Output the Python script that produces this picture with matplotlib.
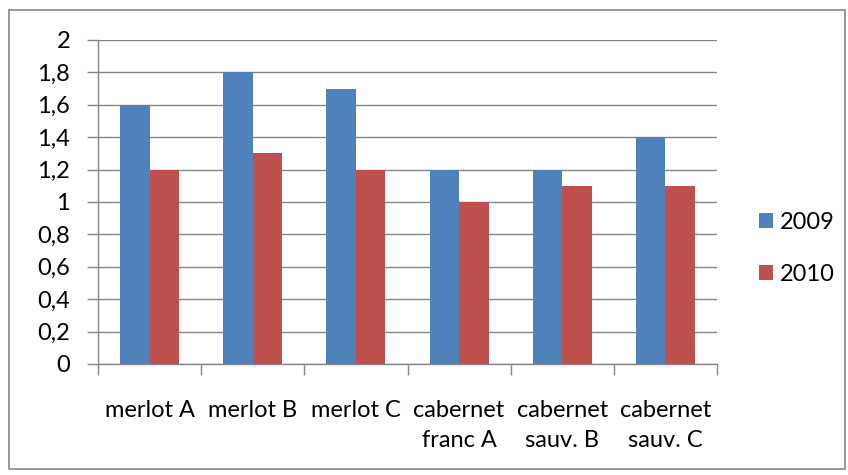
import matplotlib.pyplot as plt
import numpy as np
from matplotlib.patches import Rectangle

plt.rcParams['font.family'] = ['Lato', 'DejaVu Sans']

categories = ['merlot A', 'merlot B', 'merlot C', 'cabernet\nfranc A', 'cabernet\nsauv. B', 'cabernet\nsauv. C']
vals_2009 = [1.6, 1.8, 1.7, 1.2, 1.2, 1.4]
vals_2010 = [1.2, 1.3, 1.2, 1.0, 1.1, 1.1]
series = ['2009', '2010']
yticks = [0, 0.2, 0.4, 0.6, 0.8, 1, 1.2, 1.4, 1.6, 1.8, 2]
ytick_labels = ['0', '0,2', '0,4', '0,6', '0,8', '1', '1,2', '1,4', '1,6', '1,8', '2']

fig = plt.figure(figsize=(8.48, 4.75), dpi=100)
ax = fig.add_axes([0.1156, 0.2337, 0.7299, 0.6821])

# chart border
fig.patches.append(Rectangle((0.011, 0.012), 0.986, 0.966, transform=fig.transFigure,
                             fill=False, edgecolor='#868686', linewidth=1.2))

x = np.arange(len(categories))
w = 1 / 3.5
ax.bar(x - w / 2, vals_2009, w, color='#4F81BD', label=series[0], zorder=3)
ax.bar(x + w / 2, vals_2010, w, color='#C0504D', label=series[1], zorder=3)

ax.set_xlim(-0.5, len(categories) - 0.5)
ax.set_ylim(0, 2)
ax.set_yticks(yticks)
ax.set_yticklabels(ytick_labels)
ax.yaxis.grid(True, color='#868686', linewidth=1, zorder=0)

ax.set_xticks(np.arange(len(categories) + 1) - 0.5)
ax.set_xticklabels([])
ax.set_xticks(x, minor=True)
ax.set_xticklabels(categories, minor=True)
ax.tick_params(axis='x', which='minor', length=0, pad=26, labelsize=17)
ax.tick_params(axis='x', which='major', length=8, color='#868686', width=1)
ax.tick_params(axis='y', length=8, color='#868686', width=1, labelsize=17, pad=12)
for lbl in ax.get_xticklabels(minor=True):
    lbl.set_linespacing(1.5)

for s in ['top', 'right']:
    ax.spines[s].set_visible(False)
for s in ['left', 'bottom']:
    ax.spines[s].set_color('#868686')
    ax.spines[s].set_linewidth(1)

ax.legend(frameon=False, loc='center left', bbox_to_anchor=(0.895, 0.477),
          bbox_transform=fig.transFigure, fontsize=17, handlelength=0.6,
          handleheight=0.6, handletextpad=0.3, labelspacing=1.3,
          borderpad=0, borderaxespad=0)

fig.savefig('out.png', dpi=100)
